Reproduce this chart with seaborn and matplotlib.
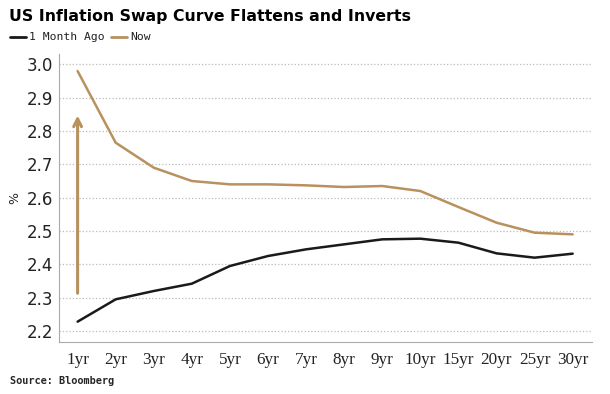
import numpy as np
import pandas as pd
import seaborn as sns
from matplotlib import pyplot as plt
from matplotlib.ticker import FixedLocator

tenors = ['1yr', '2yr', '3yr', '4yr', '5yr', '6yr', '7yr', '8yr', '9yr',
          '10yr', '15yr', '20yr', '25yr', '30yr']
month_ago = [2.228, 2.295, 2.320, 2.342, 2.395, 2.425, 2.445, 2.460, 2.475,
             2.477, 2.465, 2.433, 2.420, 2.432]
now = [2.980, 2.765, 2.690, 2.650, 2.640, 2.640, 2.637, 2.632, 2.635,
       2.620, 2.572, 2.525, 2.495, 2.490]
series_names = ['1 Month Ago', 'Now']

black = '#1a1a1a'
tan = '#B8915F'

sns.set_style('white')
plt.rcParams['font.family'] = ['DejaVu Sans']

df = pd.DataFrame({'tenor': tenors * 2,
                   'value': month_ago + now,
                   'series': [series_names[0]] * len(tenors) + [series_names[1]] * len(tenors)})
df['pos'] = list(range(len(tenors))) * 2

fig = plt.figure(figsize=(6.1, 3.94), dpi=100)
ax = fig.add_axes([0.096, 0.132, 0.874, 0.73])

sns.lineplot(data=df, x='pos', y='value', hue='series', palette=[black, tan],
             linewidth=1.8, ax=ax, legend=False)

# arrow showing the move at the short end
ax.annotate('', xy=(0, 2.855), xytext=(0, 2.305),
            arrowprops=dict(arrowstyle='->', color=tan, lw=2.2, mutation_scale=14))

ax.set_xlim(-0.5, len(tenors) - 0.5)
ax.set_ylim(2.167, 3.03)
ax.set_yticks(np.arange(2.2, 3.01, 0.1))
ax.set_yticklabels([f'{v:.1f}' for v in np.arange(2.2, 3.01, 0.1)], fontsize=12, color='#222222')
ax.set_xticks(range(len(tenors)))
ax.set_xticklabels(tenors, fontsize=12.3, family='Liberation Serif', color='#222222')
ax.xaxis.set_minor_locator(FixedLocator(np.arange(0.5, len(tenors) - 1, 1)))
ax.tick_params(axis='x', which='major', length=0, pad=7)
ax.tick_params(axis='x', which='minor', length=4, color='#aaaaaa')
ax.tick_params(axis='y', length=0, pad=4)
ax.grid(axis='y', linestyle=':', color='#bbbbbb', linewidth=0.9)
ax.set_xlabel('')
ax.set_ylabel('%', fontsize=9, rotation=90, labelpad=4)

for side in ['top', 'right']:
    ax.spines[side].set_visible(False)
for side in ['left', 'bottom']:
    ax.spines[side].set_color('#aaaaaa')

fig.text(0.015, 0.957, 'US Inflation Swap Curve Flattens and Inverts',
         fontsize=11.3, fontweight='bold', va='center', color='black')

# legend
fig.lines.append(plt.Line2D([0.016, 0.043], [0.905, 0.905], color=black, lw=2, transform=fig.transFigure))
fig.text(0.047, 0.905, '1 Month Ago', fontsize=8.2, family='DejaVu Sans Mono', va='center', color='#222222')
fig.lines.append(plt.Line2D([0.182, 0.209], [0.905, 0.905], color=tan, lw=2, transform=fig.transFigure))
fig.text(0.213, 0.905, 'Now', fontsize=8.2, family='DejaVu Sans Mono', va='center', color='#222222')

fig.text(0.016, 0.032, 'Source: Bloomberg', fontsize=7.4, fontweight='bold',
         family='DejaVu Sans Mono', va='center')

fig.savefig('out.png', dpi=100)
